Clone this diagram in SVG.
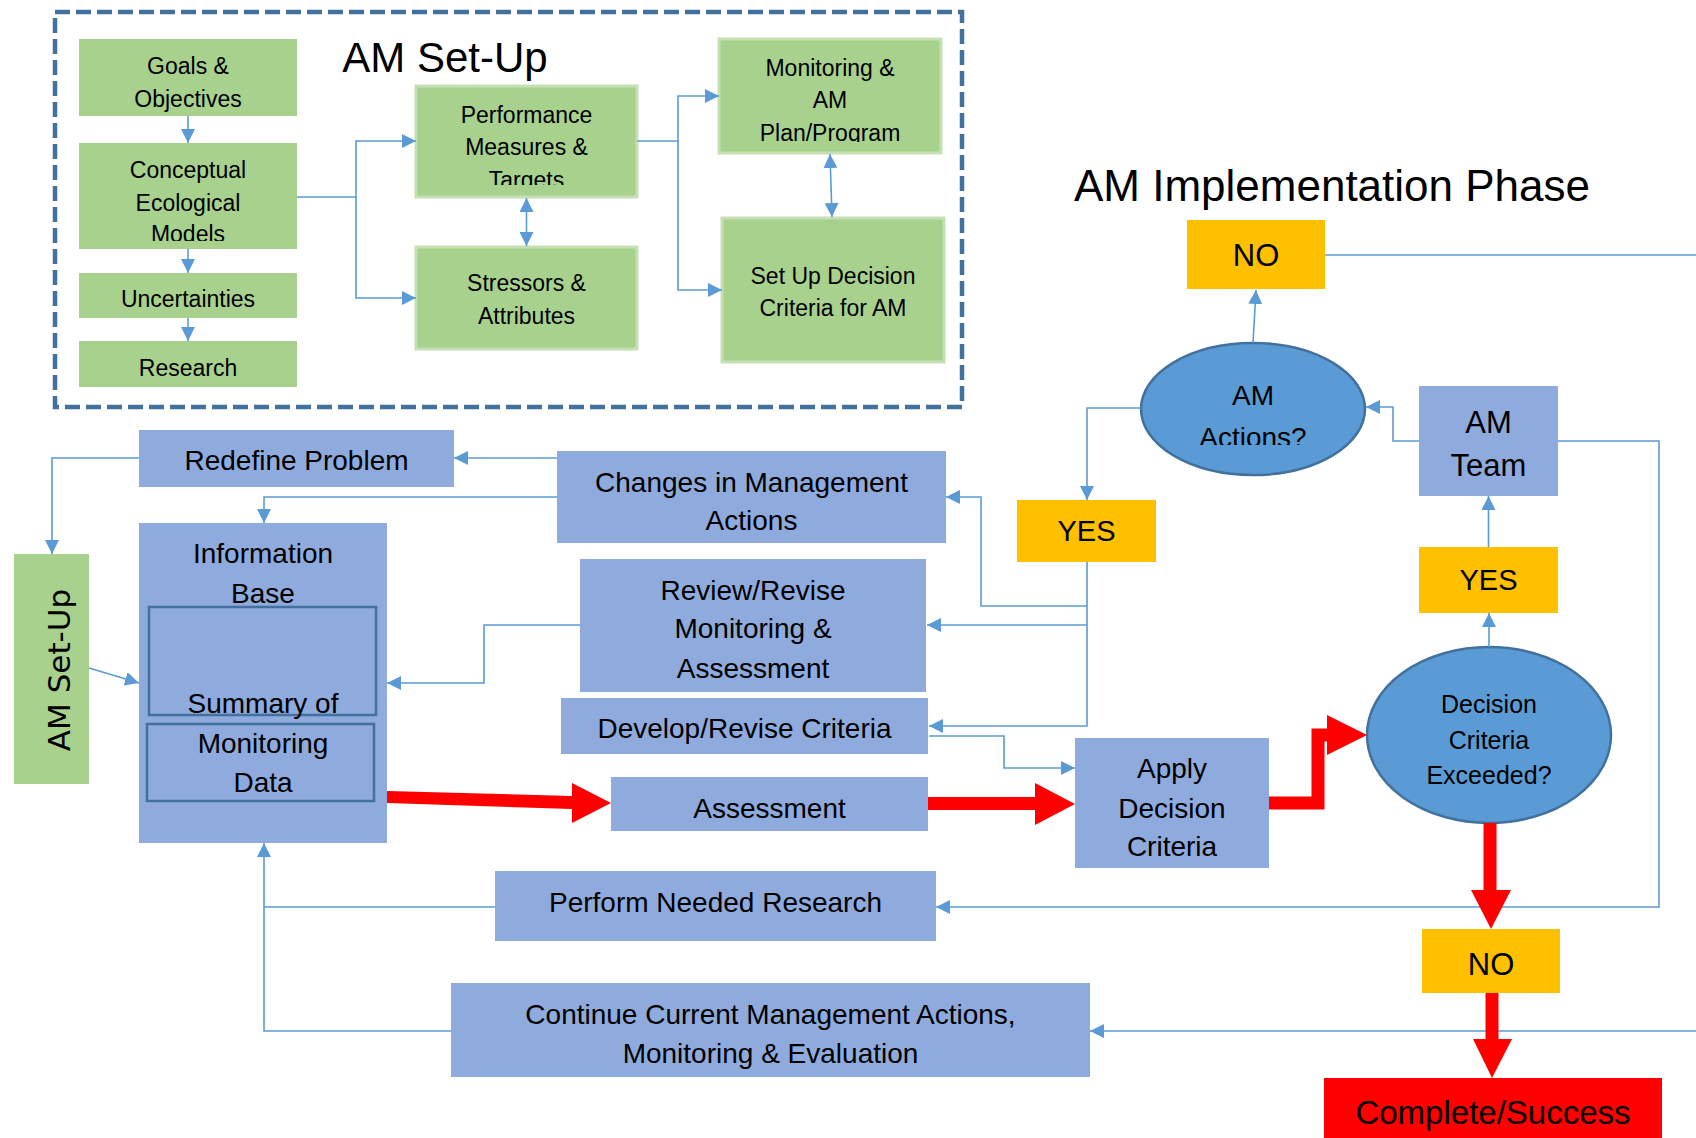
<svg xmlns="http://www.w3.org/2000/svg" width="1696" height="1138" viewBox="0 0 1696 1138">
<style>
text{font-family:"Liberation Sans",Arial,sans-serif;fill:#000;text-anchor:middle}
.s{font-size:23px}
.m{font-size:28px}
.g{fill:#A9D18E}
.gb{fill:#A9D18E;stroke:#C5E0B4;stroke-width:3}
.b{fill:#8FAADC}
.y{fill:#FFC000}
.el{fill:#5B9BD5;stroke:#41719C;stroke-width:2.5}
.inner{fill:none;stroke:#41719C;stroke-width:2.5}
.c{fill:none;stroke:#5B9BD5;stroke-width:1.6}
.a{marker-end:url(#ah)}
.d{marker-start:url(#ah);marker-end:url(#ah)}
.red{fill:#FF0000}
.rs{fill:none;stroke:#FF0000;stroke-width:13}
</style>
<defs>
<marker id="ah" viewBox="0 0 14 14" markerWidth="14" markerHeight="14" refX="14" refY="7" orient="auto-start-reverse" markerUnits="userSpaceOnUse"><path d="M0,0 L14,7 L0,14 z" fill="#5B9BD5"/></marker>
<clipPath id="cpConcept"><rect x="79" y="143" width="218" height="98"/></clipPath>
<clipPath id="cpPerf"><rect x="416" y="86" width="221" height="99"/></clipPath>
<clipPath id="cpMon"><rect x="719" y="39" width="222" height="103"/></clipPath>
<clipPath id="cpAct"><rect x="1141" y="343" width="225" height="102"/></clipPath>
</defs>
<rect width="1696" height="1138" fill="#fff"/>

<g id="setup-frame">
<rect x="55" y="12" width="907" height="395" fill="none" stroke="#41719C" stroke-width="4.5" stroke-dasharray="15 6"/>
<text x="445" y="72" style="font-size:42px">AM Set-Up</text>
</g>

<g id="goals"><rect class="g" x="79" y="39" width="218" height="77"/>
<text class="s" x="188" y="74">Goals &amp;</text><text class="s" x="188" y="107">Objectives</text></g>
<g id="conceptual"><rect class="g" x="79" y="143" width="218" height="106"/>
<g clip-path="url(#cpConcept)"><text class="s" x="188" y="178">Conceptual</text><text class="s" x="188" y="211">Ecological</text><text class="s" x="188" y="242">Models</text></g></g>
<g id="uncertainties"><rect class="g" x="79" y="273" width="218" height="45"/>
<text class="s" x="188" y="307">Uncertainties</text></g>
<g id="research"><rect class="g" x="79" y="341" width="218" height="46"/>
<text class="s" x="188" y="376">Research</text></g>
<g id="performance"><rect class="gb" x="416" y="86" width="221" height="111"/>
<g clip-path="url(#cpPerf)"><text class="s" x="526.5" y="123">Performance</text><text class="s" x="526.5" y="155">Measures &amp;</text><text class="s" x="526.5" y="188">Targets</text></g></g>
<g id="stressors"><rect class="gb" x="416" y="247" width="221" height="102"/>
<text class="s" x="526.5" y="291">Stressors &amp;</text><text class="s" x="526.5" y="324">Attributes</text></g>
<g id="monitoring-plan"><rect class="gb" x="719" y="39" width="222" height="114"/>
<g clip-path="url(#cpMon)"><text class="s" x="830" y="76">Monitoring &amp;</text><text class="s" x="830" y="108">AM</text><text class="s" x="830" y="141">Plan/Program</text></g></g>
<g id="setup-criteria"><rect class="gb" x="722" y="218" width="222" height="144"/>
<text class="s" x="833" y="284">Set Up Decision</text><text class="s" x="833" y="316">Criteria for AM</text></g>

<g id="impl-title"><text x="1332" y="201" style="font-size:44px">AM Implementation Phase</text></g>

<g id="no-top"><rect class="y" x="1187" y="220" width="138" height="69"/><text x="1256" y="266" style="font-size:31px">NO</text></g>
<g id="am-actions"><ellipse class="el" cx="1253" cy="409" rx="112" ry="66"/>
<g clip-path="url(#cpAct)"><text class="m" x="1253" y="405">AM</text><text class="m" x="1253" y="447">Actions?</text></g></g>
<g id="am-team"><rect class="b" x="1419" y="386" width="139" height="110"/>
<text x="1488.5" y="433" style="font-size:31px">AM</text><text x="1488.5" y="476" style="font-size:31px">Team</text></g>
<g id="yes-left"><rect class="y" x="1017" y="500" width="139" height="62"/><text x="1086.5" y="541" style="font-size:29px">YES</text></g>
<g id="yes-right"><rect class="y" x="1419" y="547" width="139" height="66"/><text x="1488.5" y="590" style="font-size:29px">YES</text></g>
<g id="decision-exceeded"><ellipse class="el" cx="1489" cy="735" rx="122" ry="88"/>
<text x="1489" y="713" style="font-size:25px">Decision</text><text x="1489" y="749" style="font-size:25px">Criteria</text><text x="1489" y="784" style="font-size:25px">Exceeded?</text></g>
<g id="no-bottom"><rect class="y" x="1422" y="929" width="138" height="64"/><text x="1491" y="975" style="font-size:31px">NO</text></g>
<g id="complete"><rect class="red" x="1324" y="1078" width="338" height="60"/><text x="1493" y="1124" style="font-size:33px">Complete/Success</text></g>

<g id="redefine"><rect class="b" x="139" y="430" width="315" height="57"/><text class="m" x="296.5" y="470">Redefine Problem</text></g>
<g id="changes"><rect class="b" x="557" y="451" width="389" height="92"/>
<text class="m" x="751.5" y="492">Changes in Management</text><text class="m" x="751.5" y="530">Actions</text></g>
<g id="am-setup-side"><rect class="g" x="14" y="554" width="75" height="230"/>
<text transform="translate(70,670) rotate(-90)" style="font-family:'DejaVu Sans',sans-serif;font-size:31px">AM Set-Up</text></g>
<g id="info-base"><rect class="b" x="139" y="523" width="248" height="320"/>
<rect class="inner" x="149" y="607" width="227" height="108"/>
<rect class="inner" x="147" y="724" width="227" height="77"/>
<text class="m" x="263" y="563">Information</text><text class="m" x="263" y="603">Base</text>
<text class="m" x="263" y="713">Summary of</text><text class="m" x="263" y="753">Monitoring</text><text class="m" x="263" y="792">Data</text></g>
<g id="review"><rect class="b" x="580" y="559" width="346" height="133"/>
<text class="m" x="753" y="600">Review/Revise</text><text class="m" x="753" y="638">Monitoring &amp;</text><text class="m" x="753" y="678">Assessment</text></g>
<g id="develop"><rect class="b" x="561" y="698" width="367" height="56"/><text class="m" x="744.5" y="738">Develop/Revise Criteria</text></g>
<g id="assessment"><rect class="b" x="611" y="777" width="317" height="54"/><text class="m" x="769.5" y="818">Assessment</text></g>
<g id="apply"><rect class="b" x="1075" y="738" width="194" height="130"/>
<text class="m" x="1172" y="778">Apply</text><text class="m" x="1172" y="818">Decision</text><text class="m" x="1172" y="856">Criteria</text></g>
<g id="perform"><rect class="b" x="495" y="871" width="441" height="70"/><text class="m" x="715.5" y="912">Perform Needed Research</text></g>
<g id="continue"><rect class="b" x="451" y="983" width="639" height="94"/>
<text class="m" x="770.5" y="1024">Continue Current Management Actions,</text><text class="m" x="770.5" y="1063">Monitoring &amp; Evaluation</text></g>

<g id="connectors">
<path class="c a" d="M188,116 V143"/>
<path class="c a" d="M188,249 V273"/>
<path class="c a" d="M188,318 V341"/>
<path class="c a" d="M297,197 H356 V141 H416"/>
<path class="c a" d="M356,197 V298 H416"/>
<path class="c d" d="M526.5,198 V246"/>
<path class="c a" d="M637,141 H678 V96 H719"/>
<path class="c a" d="M678,141 V290 H722"/>
<path class="c d" d="M830,154 L832,217"/>
<path class="c a" d="M1253,343 L1256,290"/>
<path class="c" d="M1325,255 H1696"/>
<path class="c a" d="M1419,441 H1393 V407 H1366"/>
<path class="c a" d="M1141,408 H1087 V500"/>
<path class="c a" d="M1488.5,547 V496"/>
<path class="c a" d="M1489,647 V613"/>
<path class="c a" d="M1558,441 H1659 V907 H936"/>
<path class="c a" d="M1087,562 V726 H929"/>
<path class="c a" d="M1087,606 H981 V497 H946"/>
<path class="c a" d="M1087,625 H927"/>
<path class="c a" d="M929,736 H1004 V768 H1075"/>
<path class="c a" d="M557,458 H454"/>
<path class="c a" d="M557,497 H264 V523"/>
<path class="c a" d="M139,458 H52 V554"/>
<path class="c a" d="M89,668 L139,683"/>
<path class="c a" d="M580,625 H484 V683 H387"/>
<path class="c a" d="M495,907 H264 V843"/>
<path class="c" d="M451,1031 H264 V907"/>
<path class="c a" d="M1696,1031 H1090"/>
<polygon class="red" points="387,791 572,796 572,783 611,803 572,823 572,809 387,803"/>
<polygon class="red" points="928,797 1035,797 1035,783 1075,804 1035,825 1035,810 928,810"/>
<path class="rs" d="M1269,803 H1318 V735 H1330"/>
<polygon class="red" points="1327,715 1367,735 1327,755"/>
<path class="rs" d="M1490,823 V892"/>
<polygon class="red" points="1471,890 1511,890 1491,929"/>
<path class="rs" d="M1492,993 V1041"/>
<polygon class="red" points="1473,1039 1512,1039 1492,1078"/>
</g>
</svg>
